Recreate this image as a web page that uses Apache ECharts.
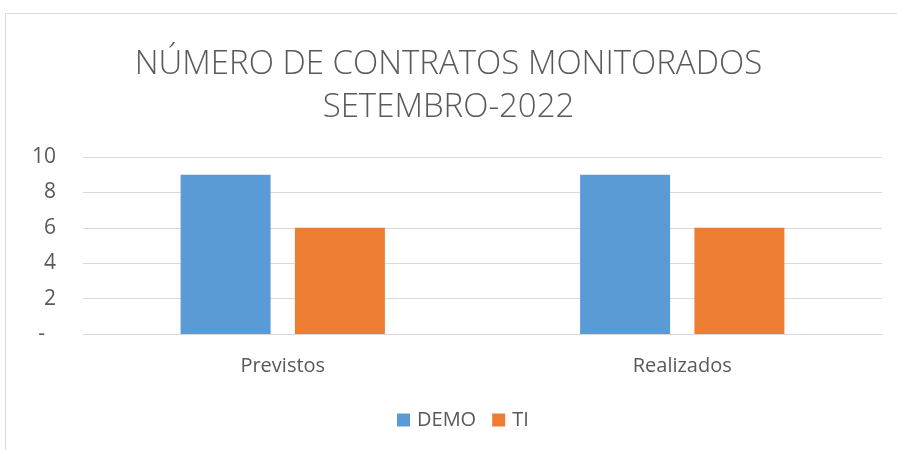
<!DOCTYPE html>
<html><head><meta charset="utf-8">
<script src="https://cdn.jsdelivr.net/npm/echarts@6/dist/echarts.min.js"></script>
<style>html,body{margin:0;padding:0;background:#fff}#c{width:897px;height:450px}</style>
</head><body><div id="c"></div>
<script>
const categories = ['Previstos', 'Realizados'];
const demoValues = [9, 9];
const tiValues = [6, 6];
const seriesNames = ['DEMO', 'TI'];
const titleLines = ['NÚMERO DE CONTRATOS MONITORADOS', 'SETEMBRO-2022'];

const chart = echarts.init(document.getElementById('c'));
const font = 'Open Sans';
chart.setOption({
  animation: false,
  textStyle: {fontFamily: font},
  graphic: [{type: 'rect', shape: {x: 5.5, y: 13.5, width: 1000, height: 1000}, style: {fill: 'none', stroke: '#d9d9d9', lineWidth: 1}, silent: true}],
  title: {
    text: titleLines.join('\n'), left: 'center', top: 38,
    textStyle: {fontFamily: font, fontWeight: 300, fontSize: 33, color: '#595959', lineHeight: 43}
  },
  legend: {
    data: seriesNames, bottom: 15, left: 392, itemWidth: 13, itemHeight: 13, itemGap: 16,
    icon: 'rect',
    textStyle: {fontFamily: font, fontSize: 20, color: '#595959', padding: [0, 0, 0, 2]}
  },
  grid: {left: 83, right: 15, top: 157, bottom: 116},
  xAxis: {
    type: 'category', data: categories,
    axisLine: {lineStyle: {color: '#d9d9d9'}}, axisTick: {show: false},
    axisLabel: {fontFamily: font, fontSize: 20, color: '#595959', margin: 22}
  },
  yAxis: {
    type: 'value', min: 0, max: 10, interval: 2,
    axisLine: {show: false}, axisTick: {show: false},
    splitLine: {lineStyle: {color: '#d9d9d9', width: 1}},
    axisLabel: {fontFamily: font, fontSize: 21, color: '#595959', margin: 27, formatter: v => v === 0 ? '-  ' : String(v)}
  },
  series: [
    {name: seriesNames[0], type: 'bar', data: demoValues, barWidth: 90, barGap: '27%', itemStyle: {color: '#5B9BD5'}},
    {name: seriesNames[1], type: 'bar', data: tiValues, barWidth: 90, itemStyle: {color: '#ED7D31'}}
  ]
});
</script></body></html>
